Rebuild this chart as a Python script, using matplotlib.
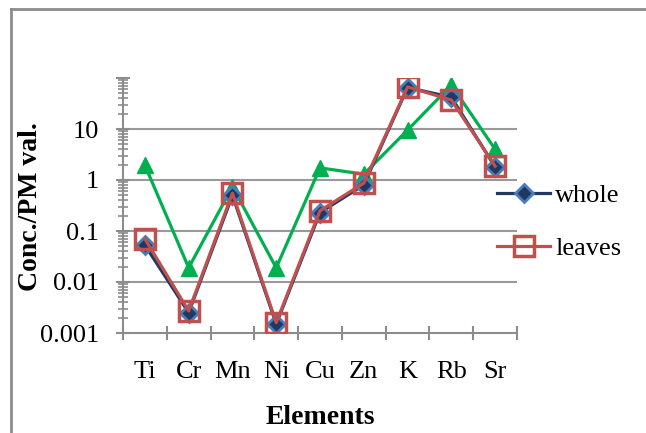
import numpy as np
import matplotlib.pyplot as plt
from matplotlib.ticker import FixedLocator, NullFormatter, FixedFormatter

plt.rcParams['font.family'] = ['Liberation Serif', 'DejaVu Serif']

elements = ['Ti', 'Cr', 'Mn', 'Ni', 'Cu', 'Zn', 'K', 'Rb', 'Sr']
whole = [0.053, 0.0025, 0.5, 0.0015, 0.23, 0.8, 65, 42, 1.8]
leaves = [0.07, 0.0027, 0.55, 0.0016, 0.25, 0.87, 67, 37, 1.87]
other = [1.95, 0.019, 0.74, 0.019, 1.73, 1.3, 9.5, 73, 4.0]

fig = plt.figure(figsize=(6.46, 4.33), dpi=100)
ax = fig.add_axes([123/646, 1-333/433, 394/646, 255/433])

x = np.arange(len(elements))
gray = '#8c8c8c'

ax.plot(x, other, color='#00B050', lw=2.3, marker='^', ms=12,
        mfc='#00B050', mec='#00B050', zorder=3)
lw_, = ax.plot(x, whole, color='#1F3864', lw=2.3, marker='D', ms=9,
               mfc='#1F3864', mec='#4A7EBB', mew=2, label='whole', zorder=4)
ll_, = ax.plot(x, leaves, color='#C0504D', lw=2.3, marker='s', ms=14,
               mfc='none', mec='#C0504D', mew=2.5, label='leaves', zorder=5)

ax.set_yscale('log')
ax.set_ylim(0.001, 100)
ax.set_xlim(-0.5, len(elements) - 0.5)

# y ticks
ax.yaxis.set_major_locator(FixedLocator([0.001, 0.01, 0.1, 1, 10, 100]))
ax.yaxis.set_major_formatter(FixedFormatter(['0.001', '0.01', '0.1', '1', '10', '']))
minors = [m * 10.0**e for e in range(-3, 2) for m in range(2, 10)]
ax.yaxis.set_minor_locator(FixedLocator(minors))
ax.yaxis.set_minor_formatter(NullFormatter())
ax.tick_params(axis='y', which='major', direction='inout', length=10, width=1.5,
               color=gray, labelsize=19, pad=12)
ax.tick_params(axis='y', which='minor', direction='inout', length=7, width=1.2,
               color=gray)

# x ticks at category boundaries
ax.set_xticks(np.arange(len(elements) + 1) - 0.5)
ax.set_xticklabels([])
ax.set_xticks(x, minor=True)
ax.set_xticklabels(elements, minor=True)
ax.tick_params(axis='x', which='major', direction='inout', length=10, width=1.5,
               color=gray)
ax.tick_params(axis='x', which='minor', length=0, labelsize=19, pad=20)

for v in [0.01, 0.1, 1, 10]:
    ax.axhline(v, color='#999999', lw=1.5, zorder=1)

for s in ['top', 'right']:
    ax.spines[s].set_visible(False)
for s in ['left', 'bottom']:
    ax.spines[s].set_color(gray)
    ax.spines[s].set_linewidth(1.5)

fig.text(31/646, 1-207/433, 'Conc./PM val.', rotation=90, ha='center', va='center',
         fontsize=20, fontweight='bold')
fig.text(320/646, 1-417/433, 'Elements', ha='center', va='center',
         fontsize=20, fontweight='bold')

fig.legend(handles=[lw_, ll_], loc='center left', bbox_to_anchor=(484/646, 1-222/433),
           frameon=False, fontsize=19, handlelength=2.0, handletextpad=0.2,
           labelspacing=1.1, borderpad=0)

# outer chart border
fig.add_artist(plt.Line2D([10.5/646, 10.5/646], [0, 1-8.5/433], color='#8c8c8c', lw=2,
                          transform=fig.transFigure))
fig.add_artist(plt.Line2D([10.5/646, 1], [1-8.5/433, 1-8.5/433], color='#8c8c8c', lw=2,
                          transform=fig.transFigure))

fig.savefig('out.png', dpi=100)
